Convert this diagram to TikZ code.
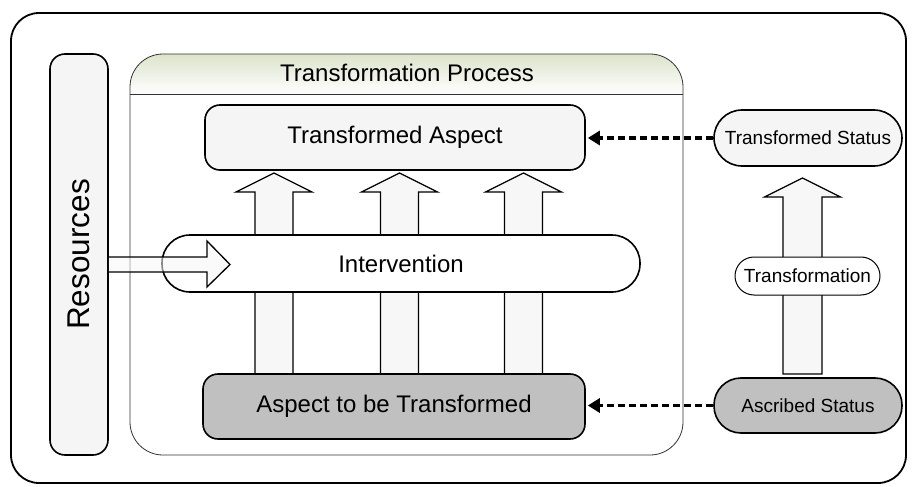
\documentclass[tikz,border=0pt]{standalone}
\usepackage{fontspec}
\setmainfont{Liberation Sans}
\usetikzlibrary{arrows.meta}
\definecolor{lightfill}{HTML}{F5F5F5}
\definecolor{darkfill}{HTML}{C0C0C0}
\definecolor{hdrtop}{HTML}{DCE3CB}
\definecolor{arrowfill}{HTML}{F7F7F7}
\tikzset{
  box/.style={draw=black, line width=1.6pt, rounded corners=15pt, inner sep=0pt, align=center},
  pill/.style={draw=black, line width=1.6pt, inner sep=0pt, align=center},
  blockarrow/.style={draw=black, line width=1.3pt, fill=arrowfill, line join=miter},
  dasharrow/.style={draw=black, line width=3.2pt, dash pattern=on 7pt off 4pt, -{Triangle[length=12pt,width=14pt]}, shorten >=2pt},
}
\begin{document}
\begin{tikzpicture}[x=1pt,y=-1pt]
\useasboundingbox (0,0) rectangle (914,487);
% outer frame
\draw[line width=1.8pt, rounded corners=28pt] (11,13) rectangle (906,483);
% container
\begin{scope}
  \clip[rounded corners=33pt] (130,54) rectangle (683,455);
  \shade[top color=hdrtop, bottom color=white] (130,54) rectangle (683,94);
\end{scope}
\draw[line width=0.6pt, draw=black!80] (130,94) -- (683,94);
\draw[line width=0.8pt, draw=black!80, rounded corners=33pt] (130,54) rectangle (683,455);
\node[font=\fontsize{24}{28}\selectfont] (tp) at (407,73) {Transformation Process};

% resources
\node[box, fill=lightfill, rotate=90, minimum width=401pt, minimum height=58pt,
      font=\fontsize{31.5}{36}\selectfont] (res) at (79,254.5) {Resources};

% vertical block arrows (behind)
\foreach \cx/\nm in {274/a1, 399.5/a2, 523.5/a3}{
  \draw[blockarrow] (\cx-19,380) -- (\cx-19,192) -- (\cx-38,192) -- (\cx,173)
     -- (\cx+38,192) -- (\cx+19,192) -- (\cx+19,380);
}
% right block arrow
\draw[blockarrow] (783,374) -- (783,197) -- (764.5,197) -- (802.5,178)
   -- (840.5,197) -- (822,197) -- (822,374) -- cycle;

% main nodes
\node[box, fill=lightfill, minimum width=380pt, minimum height=65pt,
      font=\fontsize{24}{28}\selectfont] (ta) at (395,137.5) {Transformed Aspect};
\node[pill, fill=white, rounded corners=28pt, minimum width=478pt, minimum height=57pt,
      font=\fontsize{24}{28}\selectfont] (int) at (401,263.5) {Intervention};
\node[box, fill=darkfill, minimum width=382pt, minimum height=65pt,
      font=\fontsize{24}{28}\selectfont] (atb) at (394,406.5) {Aspect to be Transformed};

\node[pill, fill=lightfill, rounded corners=28pt, minimum width=188pt, minimum height=56pt,
      font=\fontsize{19}{23}\selectfont] (ts) at (808,138) {Transformed Status};
\node[pill, fill=white, line width=1pt, rounded corners=19pt, minimum width=145pt, minimum height=38pt,
      font=\fontsize{19}{23}\selectfont] (tr) at (807.5,276) {Transformation};
\node[pill, fill=darkfill, rounded corners=27pt, minimum width=188pt, minimum height=55pt,
      font=\fontsize{19}{23}\selectfont] (as) at (808,405.5) {Ascribed Status};

% resources arrow (over intervention, translucent)
\draw[line width=1.3pt, fill=arrowfill, fill opacity=0.55, line join=miter]
  (res.south |- 0,257) -- (207,257) -- (207,241) -- (230,264.5) -- (207,287)
  -- (207,272) -- (res.south |- 0,272);

% dashed connectors
\draw[dasharrow] (ts.west) -- (ts.west -| ta.east);
\draw[dasharrow] (as.west) -- (as.west -| atb.east);
\end{tikzpicture}
\end{document}
